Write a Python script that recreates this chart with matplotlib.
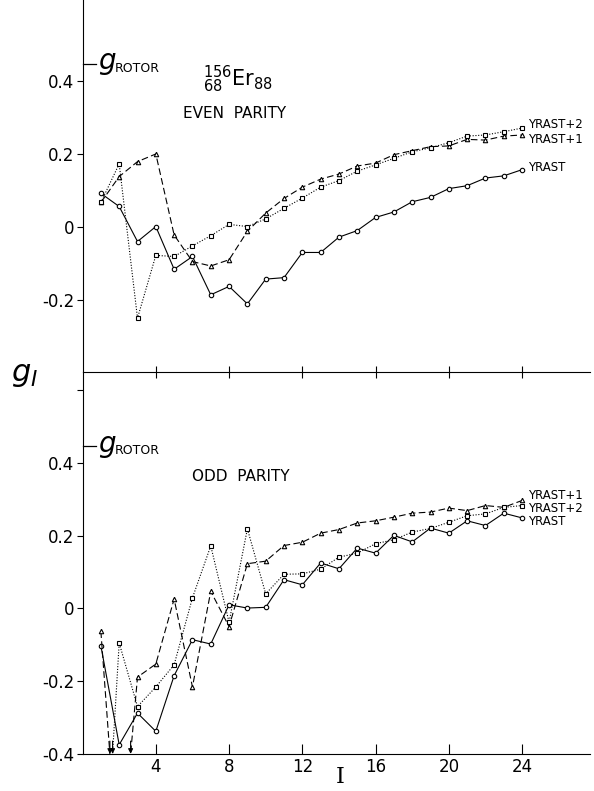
import numpy as np
import matplotlib
matplotlib.use("Agg")
import matplotlib.pyplot as plt

plt.rcParams["font.family"] = ["DejaVu Sans"]
plt.rcParams["mathtext.fontset"] = "dejavusans"

# spin values
spins = list(range(1, 25))
g_rotor = 0.446

# even parity g-factors
even_yrast = [0.091, 0.055, -0.041, 0.0, -0.117, -0.082, -0.187, -0.164, -0.212, -0.144,
              -0.140, -0.071, -0.071, -0.029, -0.011, 0.025, 0.040, 0.068, 0.080, 0.104,
              0.112, 0.133, 0.139, 0.156]
even_yrast1 = [0.066, 0.137, 0.178, 0.199, -0.023, -0.096, -0.108, -0.091, -0.013, 0.037,
               0.077, 0.108, 0.130, 0.144, 0.166, 0.174, 0.197, 0.208, 0.219, 0.221,
               0.239, 0.237, 0.248, 0.251]
even_yrast2 = [0.066, 0.172, -0.251, -0.079, -0.082, -0.053, -0.025, 0.006, 0.0, 0.021,
               0.050, 0.078, 0.108, 0.126, 0.152, 0.169, 0.187, 0.205, 0.216, 0.230,
               0.248, 0.251, 0.260, 0.270]

# odd parity g-factors (values below -0.4 are off scale)
odd_yrast = [-0.103, -0.375, -0.288, -0.338, -0.185, -0.086, -0.098, 0.010, 0.001, 0.003,
             0.079, 0.065, 0.125, 0.109, 0.166, 0.152, 0.201, 0.183, 0.221, 0.207,
             0.241, 0.228, 0.262, 0.249]
odd_yrast1 = [-0.063, -0.75, -0.189, -0.153, 0.026, -0.216, 0.047, -0.050, 0.123, 0.130,
              0.173, 0.182, 0.207, 0.217, 0.235, 0.241, 0.251, 0.262, 0.265, 0.276,
              0.269, 0.283, 0.278, 0.297]
odd_yrast2 = [-0.94, -0.095, -0.270, -0.216, -0.155, 0.029, 0.172, -0.038, 0.219, 0.040,
              0.094, 0.095, 0.108, 0.141, 0.152, 0.178, 0.189, 0.210, 0.220, 0.237,
              0.255, 0.260, 0.278, 0.283]

even_labels = [("YRAST+2", 0.281), ("YRAST+1", 0.240), ("YRAST", 0.161)]
odd_labels = [("YRAST+1", 0.310), ("YRAST+2", 0.275), ("YRAST", 0.240)]

styles = [
    dict(ls="-", marker="o"),
    dict(ls=(0, (6, 3)), marker="^"),
    dict(ls=(0, (1, 1.5)), marker="s"),
]

fig = plt.figure(figsize=(5.94, 7.91), dpi=100)
ax_bot = fig.add_axes([0.139, 0.047, 0.854, 0.483])
ax_top = fig.add_axes([0.139, 0.530, 0.854, 0.470])
ax_top.patch.set_visible(False)


def draw_series(ax, series):
    for ys, st in zip(series, styles):
        ax.plot(spins, ys, color="black", lw=0.8, ls=st["ls"], marker=st["marker"],
                ms=3.2, mfc="white", mec="black", mew=0.8, clip_on=True)


def arrows_at_floor(ax, series, floor):
    # mark where a line leaves the bottom of the scale
    for ys in series:
        for i in range(len(ys) - 1):
            y0, y1 = ys[i], ys[i + 1]
            if (y0 - floor) * (y1 - floor) < 0:
                xc = spins[i] + (floor - y0) / (y1 - y0)
                ax.annotate("", xy=(xc, floor), xytext=(xc, floor + 0.035),
                            arrowprops=dict(arrowstyle="-|>", color="black", lw=0.8,
                                            mutation_scale=7, shrinkA=0, shrinkB=0))


for ax in (ax_top, ax_bot):
    ax.spines["top"].set_visible(False)
    ax.spines["right"].set_visible(False)
    ax.set_xlim(0, 27.7)
    ax.set_xticks([4, 8, 12, 16, 20, 24])
    ax.tick_params(axis="y", direction="out", length=4, width=0.8, labelsize=12, pad=2)
    ax.plot([0, 0.75], [g_rotor, g_rotor], color="black", lw=0.9, clip_on=False)
    ax.text(0.85, g_rotor, r"$g$", fontsize=20, va="center", ha="left",
            family="DejaVu Serif", style="italic")
    ax.text(1.75, g_rotor - 0.012, "ROTOR", fontsize=9, va="center", ha="left")

# top panel: even parity
draw_series(ax_top, [even_yrast, even_yrast1, even_yrast2])
ax_top.set_ylim(-0.398, 0.621)
ax_top.set_yticks([-0.2, 0, 0.2, 0.4])
ax_top.set_yticklabels(["-0.2", "0", "0.2", "0.4"])
ax_top.tick_params(axis="x", direction="inout", length=9, width=0.8, labelbottom=False)
for txt, y in even_labels:
    ax_top.text(24.3, y, txt, fontsize=8.5, va="center", ha="left")
ax_top.text(6.6, 0.385, r"${}^{156}_{68}\mathrm{Er}_{88}$", fontsize=15, ha="left", va="baseline")
ax_top.text(5.5, 0.311, "EVEN  PARITY", fontsize=11, ha="left", va="center")

# bottom panel: odd parity
draw_series(ax_bot, [odd_yrast, odd_yrast1, odd_yrast2])
ax_bot.set_ylim(-0.4, 0.651)
ax_bot.set_yticks([-0.4, -0.2, 0, 0.2, 0.4, 0.6])
ax_bot.set_yticklabels(["-0.4", "-0.2", "0", "0.2", "0.4", ""])
ax_bot.tick_params(axis="x", direction="in", length=7, width=0.8, labelsize=12, pad=3)
arrows_at_floor(ax_bot, [odd_yrast, odd_yrast1, odd_yrast2], -0.4)
for txt, y in odd_labels:
    ax_bot.text(24.3, y, txt, fontsize=8.5, va="center", ha="left")
ax_bot.text(5.95, 0.363, "ODD  PARITY", fontsize=11, ha="left", va="center")

fig.text(0.572, 0.018, "I", fontsize=16, family="DejaVu Serif", va="center", ha="center")
fig.text(0.018, 0.528, r"$g_I$", fontsize=22, family="DejaVu Serif", style="italic",
         va="center", ha="left")

fig.savefig("out.png", dpi=100)
